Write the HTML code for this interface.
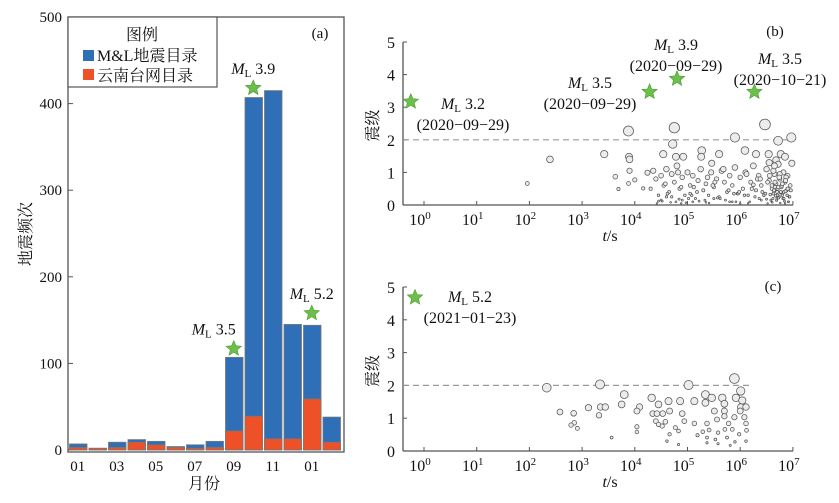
<!DOCTYPE html>
<html><head><meta charset="utf-8"><style>
body{margin:0;background:#fff;}
svg{display:block;font-family:"Liberation Serif","Noto Serif CJK SC",serif;}
</style></head><body>
<svg id="c" width="839" height="503" viewBox="0 0 839 503" xmlns="http://www.w3.org/2000/svg"></svg>
<script>
// ---- Panel (a) data ----
const months = ["01","02","03","04","05","06","07","08","09","10","11","12","01","02"];
const mlTotal = [7,2,9,12,10,4,6,10,107,407,415,145,144,38];
const yunnan = [3,2,3,9,6,3,2,3,22,39,13,13,59,9];
const aTicks = [0,100,200,300,400,500];
const aStarIdx = [8,9,12];
const aStarVal = [117,418,158];
const aStarLbl = ["3.5","3.9","5.2"];
// ---- Panel (b) data ----
const bStarT = [-0.25,4.28,4.8,6.27];
const bStarM = [3.17,3.47,3.87,3.47];
const bT = [2.39,1.96,3.88,4.75,6.47,5.9,6.97,6.72,4.72,3.42,3.89,3.9,4.54,4.78,4.92,5.27,5.26,5.6,6.09,6.3,6.54,6.77,6.85,6.68,5.46,6.98,3.63,4.24,3.69,3.88,4.0,3.9,4.16,
4.3,4.4,4.45,4.5,4.55,4.6,4.65,4.7,4.75,4.8,4.85,4.9,4.95,5.0,5.05,5.1,5.15,5.2,5.25,5.3,5.35,5.4,5.45,5.5,5.55,5.6,5.65,5.7,5.75,5.8,5.85,5.9,5.95,6.0,6.05,6.1,6.15,6.2,6.25,6.3,6.35,6.4,6.45,6.5,6.55,6.6,6.62,6.65,6.68,6.7,6.72,6.75,6.78,6.8,6.82,6.85,6.88,6.9,6.93,6.95,
4.5,4.62,4.78,4.88,5.02,5.18,5.33,5.48,5.62,5.78,5.92,6.08,6.22,6.36,6.48,6.58,6.66,6.74,6.83,6.92,
4.35,4.58,4.82,5.12,5.38,5.68,5.88,6.12,6.33,6.52,6.63,6.71,6.79,6.87,6.96,
4.7,4.9,5.1,5.5,5.8,6.0,6.4,6.6,6.7,6.85,6.55,6.65,6.75,
4.42,4.52,4.68,4.84,4.97,5.08,5.22,5.41,5.57,5.72,5.96,6.18,6.28,6.42,6.5,6.57,6.61,6.64,6.67,6.69,6.71,6.73,6.76,6.77,6.81,6.84,6.86,6.89,6.91,6.94,
6.6,6.63,6.66,6.69,6.72,6.74,6.77,6.8,6.83,6.86,6.9,6.56,6.52,6.45,6.38,6.25,6.15,5.98,5.85,5.52,5.35,5.05,4.88,4.6,4.45];
const bM = [1.40,0.66,2.27,2.37,2.47,2.07,2.07,1.97,1.87,1.56,1.48,1.40,1.56,1.48,1.48,1.67,1.48,1.56,1.67,1.56,1.56,1.56,1.48,1.38,1.28,1.28,0.87,0.99,0.49,0.66,0.77,1.05,0.51,
0.5,0.8,0.3,0.9,0.6,1.1,0.4,0.95,0.7,1.2,0.5,0.85,0.3,1.0,0.6,0.9,0.2,0.75,1.1,0.45,0.65,0.3,1.0,0.55,0.8,0.25,1.05,0.7,0.4,0.9,0.6,1.15,0.35,0.85,0.5,1.0,0.3,0.7,1.2,0.45,0.9,0.6,0.3,1.1,0.75,0.5,0.2,0.95,0.65,0.4,1.25,0.8,0.55,0.3,1.0,0.7,0.45,0.9,0.25,0.6,
0.15,0.35,0.1,0.55,0.2,0.4,0.15,0.6,0.2,0.45,0.1,0.3,0.5,0.2,0.35,0.15,0.55,0.25,0.4,0.1,
1.05,0.65,1.0,0.55,0.85,1.1,0.35,0.95,0.8,0.7,1.05,0.3,0.6,0.85,0.45,
0.25,0.15,0.1,0.2,0.1,0.05,0.15,0.1,0.2,0.05,1.3,1.2,0.95,
0.05,0.12,0.08,0.18,0.07,0.3,0.12,0.06,0.22,0.15,0.35,0.1,0.25,0.4,0.18,0.32,0.08,0.45,0.28,0.14,0.5,0.22,0.06,0.38,0.2,0.12,0.42,0.3,0.1,0.25,
0.6,0.35,0.7,0.15,0.55,0.85,0.4,0.65,0.2,0.75,0.5,0.9,0.05,0.3,0.8,0.62,0.05,0.4,0.1,0.7,0.08,0.35,0.05,0.25,0.12];
// ---- Panel (c) data ----
const cStarT = [-0.17];
const cStarM = [4.68];
const cT = [2.33,3.34,5.02,5.89,6.01,3.80,4.32,5.34,5.46,5.66,5.92,6.04,3.75,4.45,4.64,4.86,5.13,5.34,5.7,3.12,3.35,3.44,4.09,6.01,6.11,2.58,2.84,3.32,4.04,4.66,5.51,5.7,6.0,4.34,4.42,4.53,4.9,5.7,6.08,5.89,5.56,2.85,2.79,2.91,4.4,4.58,4.94,5.13,5.37,5.78,6.11,4.45,4.52,4.77,4.04,4.04,4.83,5.29,5.41,5.58,5.71,5.85,5.98,6.12,3.56,4.66,5.19,5.37,5.53,5.75,4.61,4.83,5.37,5.58,5.9,6.11,5.81];
const cM = [1.93,2.03,2.01,2.21,1.83,1.72,1.62,1.72,1.62,1.62,1.62,1.54,1.42,1.42,1.52,1.52,1.52,1.47,1.44,1.32,1.34,1.34,1.34,1.34,1.34,1.19,1.15,1.09,1.22,1.22,1.22,1.22,1.22,1.14,1.14,1.14,1.14,1.06,1.03,1.03,0.96,0.86,0.79,0.69,0.91,0.89,0.91,0.84,0.84,0.84,0.84,0.81,0.76,0.71,0.74,0.58,0.61,0.59,0.64,0.56,0.66,0.66,0.51,0.63,0.41,0.51,0.48,0.41,0.35,0.41,0.3,0.2,0.25,0.22,0.28,0.3,0.17];

const NS="http://www.w3.org/2000/svg";
const svg=document.getElementById('c');
function el(tag,attrs,parent){const e=document.createElementNS(NS,tag);for(const k in attrs)e.setAttribute(k,attrs[k]);(parent||svg).appendChild(e);return e;}
function txt(x,y,s,size,anchor,parent){const t=el('text',{x:x,y:y,'font-size':size,'text-anchor':anchor||'middle',fill:'#111'},parent);t.textContent=s;return t;}
function starPts(cx,cy,R){let p=[];for(let i=0;i<10;i++){const r=i%2?R*0.45:R;const a=-Math.PI/2+i*Math.PI/5;p.push((cx+r*Math.cos(a)).toFixed(1)+','+(cy+r*Math.sin(a)).toFixed(1));}return p.join(' ');}
function mlLabel(x,y,val,parent){const t=el('text',{x:x,y:y,'font-size':16,'text-anchor':'middle',fill:'#111'},parent);
 const a=document.createElementNS(NS,'tspan');a.setAttribute('font-style','italic');a.textContent='M';t.appendChild(a);
 const b=document.createElementNS(NS,'tspan');b.setAttribute('font-size','11');b.setAttribute('dy','3');b.textContent='L';t.appendChild(b);
 const c=document.createElementNS(NS,'tspan');c.setAttribute('dy','-3');c.textContent=' '+val;t.appendChild(c);return t;}

// ===== Panel a =====
const ga=el('g',{});


const ax0=68, ax1=344, ay0=450, ayTop=17;
const ay=v=>ay0-v*(ay0-ayTop)/500;
const bw=19.5, bx=i=>69+i*bw;
el('rect',{x:ax0,y:ayTop,width:ax1-ax0,height:452-ayTop,fill:'none',stroke:'#555','stroke-width':1.3},ga);
aTicks.forEach(v=>{el('line',{x1:ax0,x2:ax0+5,y1:ay(v),y2:ay(v),stroke:'#555'},ga);
 const t=txt(ax0-6,ay(v)+5,String(v),15,'end',ga);
 
 });
months.forEach((m,i)=>{
 const r1=el('rect',{x:bx(i)+0.5,y:ay(mlTotal[i]),width:bw-2,height:ay0-ay(mlTotal[i]),fill:'#2e6fb7',stroke:'#777','stroke-width':0.8},ga);
 
 
 const r2=el('rect',{x:bx(i)+0.5,y:ay(yunnan[i]),width:bw-2,height:ay0-ay(yunnan[i]),fill:'#ee5027',stroke:'#777','stroke-width':0.8},ga);
 
 
 if(i%2===0){const t=txt(bx(i)+bw/2-1,471,m,15,'middle',ga);
  
  }
});
aStarIdx.forEach((idx,k)=>{const cx=bx(idx)+bw/2-1,cy=ay(aStarVal[k]);
 const s=el('polygon',{points:starPts(cx,cy,8),fill:'#6cc04a',stroke:'#4a9a30','stroke-width':0.6},ga);
 
 
 mlLabel(cx-(k===0?20:0),cy-14,aStarLbl[k],ga);});
const yl=txt(0,0,'地震频次',16,'middle',ga);yl.setAttribute('transform','translate(31,234) rotate(-90)');


const xl=txt(204,489,'月份',16,'middle',ga);


const pa=txt(320,38,'(a)',15,'middle',ga);


const lg=el('g',{},ga);


el('rect',{x:ax0,y:ayTop,width:149,height:70,fill:'#fff',stroke:'#555','stroke-width':1.2},lg);
txt(142,40,'图例',16,'middle',lg);
el('rect',{x:83,y:50,width:11,height:11,fill:'#2e6fb7'},lg);
const l1=txt(97,61,'M&L地震目录',16,'start',lg);


el('rect',{x:83,y:69,width:11,height:11,fill:'#ee5027'},lg);
const l2=txt(97,81,'云南台网目录',16,'start',lg);



// ===== scatter panels =====
function scatter(name,y0,y5,T,M,sT,sM,labels,lblPos,dashEnd,letter,letterPos){
 const g=el('g',{});
 
 
 const xL=403,xR=793;
 const sx=t=>424+t*52.7, sy=m=>y0-m*(y0-y5)/5;
 el('line',{x1:xL,x2:xR,y1:y0,y2:y0,stroke:'#555','stroke-width':1.3},g);
 el('line',{x1:xL,x2:xL,y1:y0,y2:y5,stroke:'#555','stroke-width':1.3},g);
 for(let m=0;m<=5;m++){el('line',{x1:xL,x2:xL+4,y1:sy(m),y2:sy(m),stroke:'#555'},g);
  const t=txt(xL-8,sy(m)+6,String(m),16,'end',g);
  
  }
 for(let d=0;d<=7;d++){el('line',{x1:sx(d),x2:sx(d),y1:y0,y2:y0-4,stroke:'#555'},g);
  const t=el('text',{x:sx(d)-4,y:y0+20,'font-size':16,'text-anchor':'middle',fill:'#111'},g);t.textContent='10';
  const sp=document.createElementNS(NS,'tspan');sp.setAttribute('dy','-6');sp.setAttribute('font-size','11');sp.textContent=String(d);t.appendChild(sp);
  
  }
 const dl=el('line',{x1:xL,x2:dashEnd,y1:sy(2),y2:sy(2),stroke:'#999','stroke-dasharray':'6,4','stroke-width':1.2},g);
 
 
 T.forEach((t,i)=>{const r=0.7+1.9*M[i];
  const c=el('circle',{cx:sx(t),cy:sy(M[i]),r:r.toFixed(2),fill:'#ececec',stroke:'#555','stroke-width':0.75},g);
  
  });
 sT.forEach((t,i)=>{const s=el('polygon',{points:starPts(sx(t),sy(sM[i]),8),fill:'#6cc04a',stroke:'#4a9a30','stroke-width':0.6},g);
  
  
  mlLabel(lblPos[i][0],lblPos[i][1],labels[i][0],g);
  txt(lblPos[i][0],lblPos[i][1]+21,labels[i][1],16,'middle',g);});
 const yt=txt(0,0,'震级',16,'middle',g);yt.setAttribute('transform','translate(378,'+((y0+y5)/2+2)+') rotate(-90)');
 
 
 const xt=el('text',{x:610,y:y0+36,'font-size':16,'text-anchor':'middle',fill:'#111'},g);
 const it=document.createElementNS(NS,'tspan');it.setAttribute('font-style','italic');it.textContent='t';xt.appendChild(it);
 const rs=document.createElementNS(NS,'tspan');rs.textContent='/s';xt.appendChild(rs);
 
 
 const L=txt(letterPos[0],letterPos[1],letter,15,'middle',g);
 
 
}
scatter('panel-b-scatter',205,42,bT,bM,bStarT,bStarM,
 [["3.2","(2020−09−29)"],["3.5","(2020−09−29)"],["3.9","(2020−09−29)"],["3.5","(2020−10−21)"]],
 [[463,109],[590,88],[676,50],[780,64]],793,'(b)',[775,36]);
scatter('panel-c-scatter',451,287,cT,cM,cStarT,cStarM,
 [["5.2","(2021−01−23)"]],[[470,302]],752,'(c)',[773,291]);
</script>
</body></html>
